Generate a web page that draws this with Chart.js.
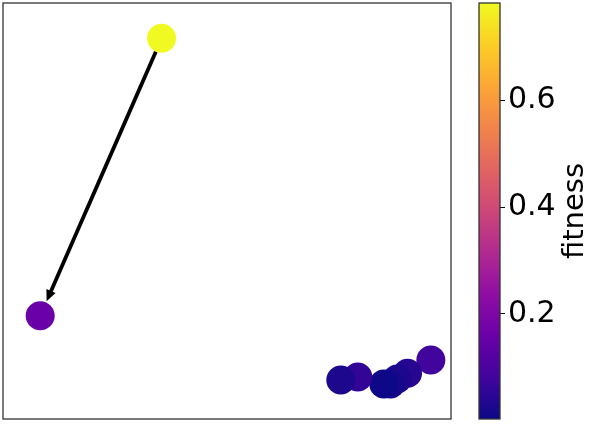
<!DOCTYPE html>
<html lang="en">
<head>
<meta charset="UTF-8">
<title>Fitness scatter</title>
<script src="https://cdn.jsdelivr.net/npm/chart.js"></script>
<style>
  body { margin: 0; background: #fff; }
  .wrap { position: relative; width: 598px; height: 424px; }
  .wrap canvas { position: absolute; left: 0; top: 0; }
</style>
</head>
<body>
<div class="wrap">
  <canvas id="scatter" width="598" height="424"></canvas>
  <canvas id="cbar" width="598" height="424"></canvas>
</div>
<script>
// points (arbitrary embedding units), drawn back to front
const xs      = [35.4, 8.3, 95.5, 90.3, 88.0, 86.5, 85.0, 79.2, 75.4];
const ys      = [91.5, 24.8, 14.2, 11.0, 9.6, 8.4, 8.4, 10.1, 9.4];
const fitness = [0.783, 0.159, 0.081, 0.042, 0.026, 0.018, 0.003, 0.058, 0.025];
// arrow: from point index to point index
const arrowFrom = 0;
const arrowTo = 1;
const cbTicks = [0.2, 0.4, 0.6];
const cbLabel = 'fitness';

const plasma = ['#0d0887', '#41049d', '#6a00a8', '#8f0da4', '#b12a90', '#cc4778',
                '#e16462', '#f2844b', '#fca636', '#fcce25', '#f0f921'];
const vmin = Math.min(...fitness);
const vmax = Math.max(...fitness);

function hex(c) { return [1, 3, 5].map(i => parseInt(c.slice(i, i + 2), 16)); }
function cmap(t) {
  t = Math.max(0, Math.min(1, t)) * (plasma.length - 1);
  const i = Math.min(Math.floor(t), plasma.length - 2), f = t - i;
  const a = hex(plasma[i]), b = hex(plasma[i + 1]);
  return 'rgb(' + a.map((v, k) => Math.round(v + (b[k] - v) * f)).join(',') + ')';
}

const frame = {
  id: 'frame',
  afterDraw(chart) {
    const ca = chart.chartArea, ctx = chart.ctx;
    ctx.save();
    ctx.strokeStyle = '#333';
    ctx.lineWidth = 1.3;
    ctx.strokeRect(ca.left, ca.top, ca.width, ca.height);
    ctx.restore();
  }
};

const arrow = {
  id: 'arrow',
  afterDatasetsDraw(chart) {
    const sx = chart.scales.x, sy = chart.scales.y, ctx = chart.ctx;
    const x0 = sx.getPixelForValue(xs[arrowFrom]), y0 = sy.getPixelForValue(ys[arrowFrom]);
    const x1 = sx.getPixelForValue(xs[arrowTo]), y1 = sy.getPixelForValue(ys[arrowTo]);
    const len = Math.hypot(x1 - x0, y1 - y0), ux = (x1 - x0) / len, uy = (y1 - y0) / len;
    const sx0 = x0 + ux * 14.5, sy0 = y0 + uy * 14.5;
    const tx = x1 - ux * 16, ty = y1 - uy * 16;
    const hl = 11, hw = 5;
    const bx = tx - ux * hl, by = ty - uy * hl;
    ctx.save();
    ctx.strokeStyle = '#000';
    ctx.fillStyle = '#000';
    ctx.lineWidth = 3.8;
    ctx.beginPath();
    ctx.moveTo(sx0, sy0);
    ctx.lineTo(bx + ux * 2, by + uy * 2);
    ctx.stroke();
    ctx.beginPath();
    ctx.moveTo(tx, ty);
    ctx.lineTo(bx - uy * hw, by + ux * hw);
    ctx.lineTo(bx + uy * hw, by - ux * hw);
    ctx.closePath();
    ctx.fill();
    ctx.restore();
  }
};

new Chart(document.getElementById('scatter'), {
  type: 'scatter',
  data: {
    datasets: [{
      data: xs.map((x, i) => ({ x: x, y: ys[i] })),
      pointRadius: 14.5,
      pointHoverRadius: 14.5,
      pointBorderWidth: 0,
      pointBackgroundColor: fitness.map(f => cmap((f - vmin) / (vmax - vmin)))
    }]
  },
  options: {
    responsive: false,
    animation: false,
    layout: { autoPadding: false, padding: { left: 3, top: 3, right: 147, bottom: 5 } },
    scales: {
      x: { display: false, min: 0, max: 100 },
      y: { display: false, min: 0, max: 100 }
    },
    plugins: { legend: { display: false }, tooltip: { enabled: false } }
  },
  plugins: [arrow, frame]
});

const cbTitle = {
  id: 'cbTitle',
  afterDraw(chart) {
    const ca = chart.chartArea, ctx = chart.ctx;
    ctx.save();
    ctx.translate(ca.right + 83, (ca.top + ca.bottom) / 2);
    ctx.rotate(-Math.PI / 2);
    ctx.font = '29px "DejaVu Sans"';
    ctx.fillStyle = '#000';
    ctx.textAlign = 'center';
    ctx.textBaseline = 'alphabetic';
    ctx.fillText(cbLabel, 0, 0);
    ctx.restore();
  }
};

new Chart(document.getElementById('cbar'), {
  type: 'bar',
  data: {
    labels: [''],
    datasets: [{
      data: [[vmin, vmax]],
      borderWidth: 0,
      barPercentage: 1,
      categoryPercentage: 1,
      backgroundColor(c) {
        const ca = c.chart.chartArea;
        if (!ca) return plasma[0];
        const g = c.chart.ctx.createLinearGradient(0, ca.bottom, 0, ca.top);
        plasma.forEach((col, i) => g.addColorStop(i / (plasma.length - 1), col));
        return g;
      }
    }]
  },
  options: {
    responsive: false,
    animation: false,
    layout: { padding: { left: 479, top: 3, right: 0, bottom: 5 } },
    scales: {
      x: { display: false },
      y: {
        position: 'right',
        min: vmin,
        max: vmax,
        afterBuildTicks(s) { s.ticks = cbTicks.map(v => ({ value: v })); },
        afterFit(s) { s.width = 98; s.paddingTop = 0; s.paddingBottom = 0; },
        border: { display: false },
        grid: { drawOnChartArea: false, tickLength: 5, tickColor: '#000', tickWidth: 1 },
        ticks: {
          color: '#000',
          padding: 3,
          font: { family: 'DejaVu Sans', size: 30 },
          callback: v => Number(v).toFixed(1)
        }
      }
    },
    plugins: { legend: { display: false }, tooltip: { enabled: false } }
  },
  plugins: [frame, cbTitle]
});
</script>
</body>
</html>
